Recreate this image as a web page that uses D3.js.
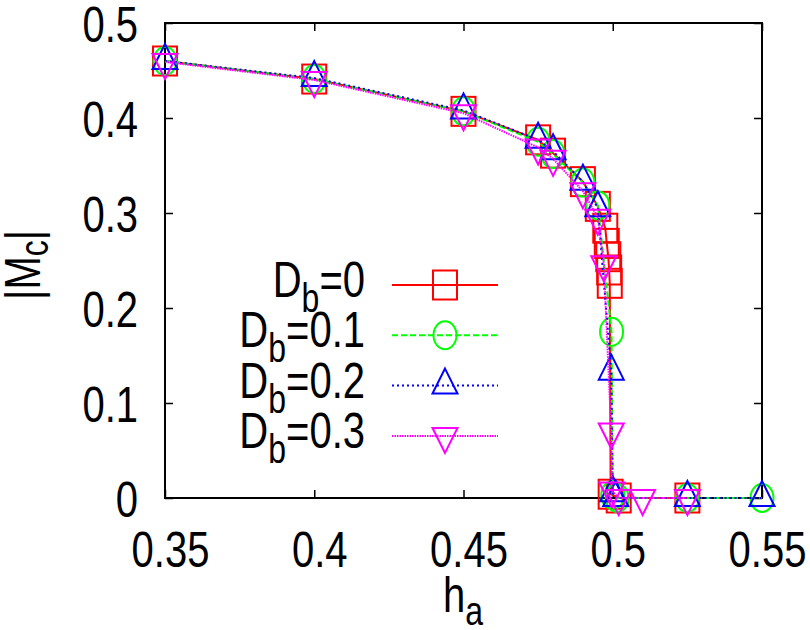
<!DOCTYPE html>
<html>
<head>
<meta charset="utf-8">
<script src="https://cdn.jsdelivr.net/npm/d3@7"></script>
<style>
  body { margin: 0; background: #fff; }
  text { font-family: "Liberation Sans", Arial, sans-serif; fill: #000; }
</style>
</head>
<body>
<div id="chart"></div>
<script>
// tick values / labels
const xTicks      = [0.35, 0.4, 0.45, 0.5, 0.55];
const xTickLabels = ["0.35", "0.4", "0.45", "0.5", "0.55"];
const yTicks      = [0, 0.1, 0.2, 0.3, 0.4, 0.5];
const yTickLabels = ["0", "0.1", "0.2", "0.3", "0.4", "0.5"];

// series: h_a and |M_c|
const haD0 = [0.35, 0.40, 0.45, 0.475, 0.48, 0.49, 0.495, 0.4975, 0.498, 0.4985, 0.4988, 0.499, 0.4993, 0.502, 0.525];
const mcD0 = [0.460, 0.441, 0.407, 0.377, 0.363, 0.333, 0.307, 0.284, 0.268, 0.254, 0.240, 0.226, 0.004, 0.0, 0.0];

const haD1 = [0.35, 0.40, 0.45, 0.475, 0.48, 0.49, 0.495, 0.4996, 0.5, 0.5015, 0.525, 0.55];
const mcD1 = [0.460, 0.441, 0.407, 0.375, 0.362, 0.332, 0.308, 0.175, 0.003, 0.0, 0.0, 0.0];

const haD2 = [0.35, 0.40, 0.45, 0.475, 0.48, 0.49, 0.495, 0.4995, 0.5, 0.501, 0.525, 0.55];
const mcD2 = [0.460, 0.442, 0.408, 0.377, 0.365, 0.333, 0.305, 0.133, 0.005, 0.0, 0.0, 0.0];

const haD3 = [0.35, 0.40, 0.45, 0.475, 0.48, 0.49, 0.495, 0.497, 0.4995, 0.4997, 0.502, 0.51, 0.525];
const mcD3 = [0.459, 0.440, 0.405, 0.369, 0.357, 0.323, 0.295, 0.246, 0.070, 0.008, 0.0, 0.0, 0.0];

const legendLabels = ["0", "0.1", "0.2", "0.3"];

const width = 810, height = 630;
const mLeft = 165, mRight = 762, mTop = 23, mBottom = 498;
const fontSize = 40, stretch = 1.25;   // gnuplot font looks condensed -> stretch vertically

const series = [
  {ha: haD0, mc: mcD0, color: "#ff0000", dash: null,    shape: "square"},
  {ha: haD1, mc: mcD1, color: "#00ff00", dash: "6,3",   shape: "circle"},
  {ha: haD2, mc: mcD2, color: "#0000ff", dash: "2,3",   shape: "up"},
  {ha: haD3, mc: mcD3, color: "#ff00ff", dash: "1.5,1", shape: "down"}
];

const svg = d3.select("#chart").append("svg")
  .attr("width", width)
  .attr("height", height);

const x = d3.scaleLinear().domain([0.35, 0.55]).range([mLeft, mRight]);
const y = d3.scaleLinear().domain([0, 0.5]).range([mBottom, mTop]);

// marker shapes
function marker(g, shape, color) {
  if (shape === "square") {
    g.append("rect").attr("x", -12).attr("y", -14.5).attr("width", 24).attr("height", 29);
  } else if (shape === "circle") {
    g.append("ellipse").attr("rx", 11.5).attr("ry", 14);
  } else if (shape === "up") {
    g.append("path").attr("d", "M0,-17L12.5,8L-12.5,8Z");
  } else {
    g.append("path").attr("d", "M0,17L12.5,-8L-12.5,-8Z");
  }
  g.selectAll("*")
    .attr("fill", "none")
    .attr("stroke", color)
    .attr("stroke-width", 2);
}

// axes (inward ticks, mirrored on top and right)
const xAxis = svg.append("g")
  .attr("transform", "translate(0," + mBottom + ")")
  .call(d3.axisBottom(x).tickValues(xTicks).tickSizeInner(-8).tickSizeOuter(0)
    .tickFormat(function(d, i) { return xTickLabels[i]; }));
xAxis.selectAll("text")
  .attr("y", null).attr("dy", null)
  .attr("transform", "translate(5,69) scale(1," + stretch + ")")
  .style("font-size", fontSize + "px")
  .attr("text-anchor", "middle");

const yAxis = svg.append("g")
  .attr("transform", "translate(" + mLeft + ",0)")
  .call(d3.axisLeft(y).tickValues(yTicks).tickSizeInner(-8).tickSizeOuter(0)
    .tickFormat(function(d, i) { return yTickLabels[i]; }));
yAxis.selectAll("text")
  .attr("x", null).attr("dy", null)
  .attr("transform", "translate(-27,18) scale(1," + stretch + ")")
  .style("font-size", fontSize + "px")
  .attr("text-anchor", "end");

svg.append("g")
  .attr("transform", "translate(0," + mTop + ")")
  .call(d3.axisTop(x).tickValues(xTicks).tickSizeInner(-8).tickSizeOuter(0).tickFormat(""));
svg.append("g")
  .attr("transform", "translate(" + mRight + ",0)")
  .call(d3.axisRight(y).tickValues(yTicks).tickSizeInner(-8).tickSizeOuter(0).tickFormat(""));

svg.selectAll(".domain").remove();
svg.selectAll(".tick line").attr("stroke", "#000").attr("stroke-width", 1.5);

// plot border
svg.append("rect")
  .attr("x", mLeft).attr("y", mTop)
  .attr("width", mRight - mLeft).attr("height", mBottom - mTop)
  .attr("fill", "none").attr("stroke", "#000").attr("stroke-width", 2);

// series: line then points
const line = d3.line()
  .x(function(d) { return x(d[0]); })
  .y(function(d) { return y(d[1]); });

series.forEach(function(s) {
  const pts = s.ha.map(function(h, i) { return [h, s.mc[i]]; });
  svg.append("path")
    .datum(pts)
    .attr("d", line)
    .attr("fill", "none")
    .attr("stroke", s.color)
    .attr("stroke-width", 2)
    .attr("stroke-dasharray", s.dash);
  svg.append("g").selectAll("g")
    .data(pts)
    .enter().append("g")
      .attr("transform", function(d) { return "translate(" + x(d[0]) + "," + y(d[1]) + ")"; })
      .each(function() { marker(d3.select(this), s.shape, s.color); });
});

// legend
const legX1 = 392, legX2 = 498, legTextX = 365, legY0 = 285, legStep = 50.3;
series.forEach(function(s, i) {
  const ly = legY0 + i * legStep;
  svg.append("line")
    .attr("x1", legX1).attr("x2", legX2)
    .attr("y1", ly).attr("y2", ly)
    .attr("stroke", s.color)
    .attr("stroke-width", 2)
    .attr("stroke-dasharray", s.dash);
  const mg = svg.append("g").attr("transform", "translate(" + ((legX1 + legX2) / 2) + "," + ly + ")");
  marker(mg, s.shape, s.color);

  const t = svg.append("text")
    .attr("transform", "translate(" + legTextX + "," + (ly + 12) + ") scale(1," + stretch + ")")
    .attr("text-anchor", "end")
    .style("font-size", fontSize + "px");
  t.append("tspan").text("D");
  t.append("tspan").attr("dy", 12).style("font-size", "32px").text("b");
  t.append("tspan").attr("dy", -12).text("=" + legendLabels[i]);
});

// axis titles
const xt = svg.append("text")
  .attr("transform", "translate(443,612) scale(1," + stretch + ")")
  .style("font-size", fontSize + "px");
xt.append("tspan").text("h");
xt.append("tspan").attr("dy", 10).style("font-size", "32px").text("a");

const yt = svg.append("text")
  .attr("transform", "translate(40,300) rotate(-90) scale(1," + stretch + ")")
  .style("font-size", fontSize + "px");
yt.append("tspan").text("|M");
yt.append("tspan").attr("dy", 6).style("font-size", "32px").text("c");
yt.append("tspan").attr("dy", -6).text("|");
</script>
</body>
</html>
